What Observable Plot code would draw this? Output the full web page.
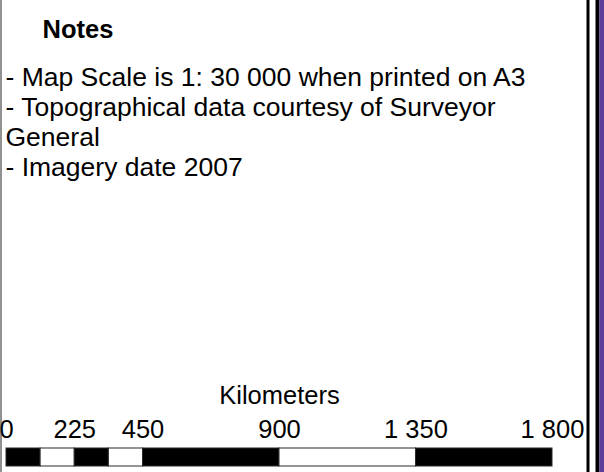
<!DOCTYPE html>
<html>
<head>
<meta charset="utf-8">
<script src="https://cdn.jsdelivr.net/npm/d3@7"></script>
<script src="https://cdn.jsdelivr.net/npm/@observablehq/plot@0.6"></script>
<style>
  html, body { margin: 0; padding: 0; background: #fff; }
  svg { display: block; }
</style>
</head>
<body>
<div id="chart"></div>
<script>
// ---- data ----
const notesTitle = "Notes";
const notesLines = [
  "- Map Scale is 1: 30 000 when printed on A3",
  "- Topographical data courtesy of Surveyor",
  "General",
  "- Imagery date 2007"
];
const scaleUnit = "Kilometers";
const scaleTicks = [0, 225, 450, 900, 1350, 1800];
const segStart = [0, 112.5, 225, 337.5, 450, 900, 1350];
const segEnd   = [112.5, 225, 337.5, 450, 900, 1350, 1800];
const segFill  = ["black", "white", "black", "white", "black", "white", "black"];

const segments = segStart.map((s, i) => ({start: s, end: segEnd[i], fill: segFill[i], row: "bar"}));
const fmt = d3.formatLocale({decimal: ".", thousands: " ", grouping: [3], currency: ["", ""]}).format(",");

const W = 604, H = 472;
const font = "'Liberation Sans', Arial, sans-serif";
const bodySize = 26.5;

const chart = Plot.plot({
  width: W,
  height: H,
  marginLeft: 0.5,
  marginRight: 16.5,
  marginTop: 0,
  marginBottom: 0,
  style: {fontFamily: font, background: "#fff", color: "#000"},
  x: {domain: [0, 1800], range: [6, 552], axis: null},
  y: {domain: ["bar"], range: [448, 466], padding: 0, axis: null},
  marks: [
    // scale bar
    Plot.barX(segments, {x1: "start", x2: "end", y: "row", fill: "fill", stroke: "#2a2a2a", strokeWidth: 1}),
    // tick labels
    Plot.text(scaleTicks, {x: d => d, text: d => fmt(d), frameAnchor: "bottom", lineAnchor: "bottom", dy: -(H - 437), fontSize: 25.5, fill: "#000"}),
    // unit
    Plot.text([scaleUnit], {x: () => d3.mean([scaleTicks[0], scaleTicks[scaleTicks.length - 1]]), text: d => d, frameAnchor: "bottom", lineAnchor: "bottom", dy: -(H - 403), fontSize: 25.5, fill: "#000"}),
    // notes title
    Plot.text([notesTitle], {frameAnchor: "top-left", lineAnchor: "bottom", dx: 41.5, dy: 37, fontSize: 25.5, fontWeight: "bold", fill: "#000"}),
    // notes body
    Plot.text([notesLines.join("\n")], {frameAnchor: "top-left", lineAnchor: "bottom", lineHeight: 30 / bodySize, dx: 4.5, dy: 175, fontSize: bodySize, fill: "#000"}),
    // borders
    Plot.frame({anchor: "left", stroke: "#222", strokeWidth: 1}),
    Plot.frame({anchor: "right", stroke: "#000", strokeWidth: 3}),
    Plot.frame({anchor: "right", stroke: "#000", strokeWidth: 4, dx: 9.5}),
    Plot.frame({anchor: "right", stroke: "#5c3d99", strokeWidth: 5, dx: 14})
  ]
});
document.getElementById("chart").append(chart);
</script>
</body>
</html>
